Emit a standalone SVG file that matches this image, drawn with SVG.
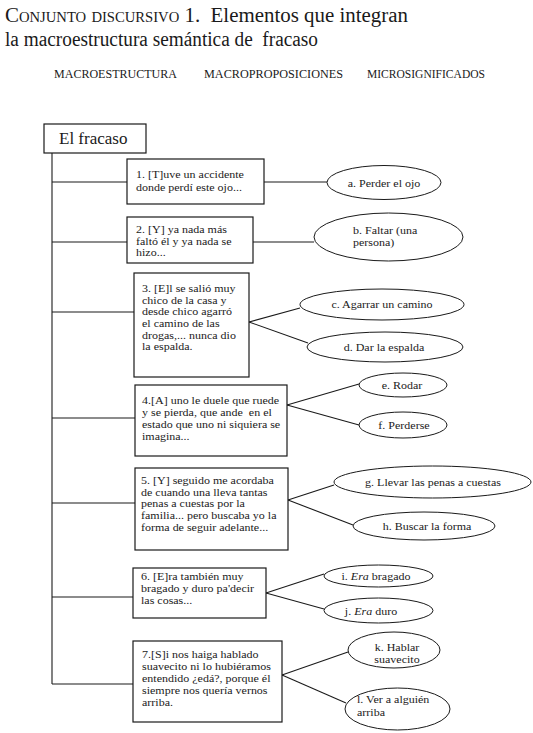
<svg xmlns="http://www.w3.org/2000/svg" width="533" height="733" viewBox="0 0 533 733">
<style>
text{font-family:"Liberation Serif","Times New Roman",serif;fill:#1a1a1a}
.t{font-size:20px;white-space:pre}
.h{font-size:11.5px}
.b{font-size:10.5px;white-space:pre}
.c{text-anchor:middle}
rect{fill:#fff;stroke:#1a1a1a;stroke-width:1.2}
ellipse{fill:#fff;stroke:#1a1a1a;stroke-width:1}
#connectors line{stroke:#1a1a1a;stroke-width:1.1;fill:none}
</style>
<rect x="0" y="0" width="533" height="733" style="stroke:none"/>
<g id="title">
<text class="t" x="5" y="22" textLength="403" lengthAdjust="spacingAndGlyphs"><tspan style="font-variant:small-caps">Conjunto discursivo</tspan> 1.  Elementos que integran</text>
<text class="t" x="5" y="46" textLength="313" lengthAdjust="spacingAndGlyphs">la macroestructura semántica de  fracaso</text>
</g>
<g id="headers">
<text class="h" x="54" y="78" textLength="123" lengthAdjust="spacingAndGlyphs">MACROESTRUCTURA</text>
<text class="h" x="204" y="78" textLength="139" lengthAdjust="spacingAndGlyphs">MACROPROPOSICIONES</text>
<text class="h" x="367" y="78" textLength="118" lengthAdjust="spacingAndGlyphs">MICROSIGNIFICADOS</text>
</g>
<g id="connectors">
<line x1="52" y1="153" x2="52" y2="684"/>
<line x1="52" y1="182" x2="127" y2="182"/>
<line x1="52" y1="242" x2="127" y2="242"/>
<line x1="52" y1="312" x2="134" y2="312"/>
<line x1="52" y1="418" x2="135" y2="418"/>
<line x1="52" y1="503" x2="135" y2="503"/>
<line x1="52" y1="597" x2="133" y2="597"/>
<line x1="52" y1="684" x2="133" y2="684"/>
<line x1="264" y1="182" x2="327" y2="182"/>
<line x1="253" y1="242" x2="314" y2="242"/>
<line x1="249" y1="322" x2="300" y2="308"/>
<line x1="249" y1="322" x2="308" y2="343"/>
<line x1="287" y1="405" x2="359" y2="384"/>
<line x1="287" y1="405" x2="359" y2="425"/>
<line x1="288" y1="500" x2="334" y2="485"/>
<line x1="288" y1="500" x2="353" y2="525"/>
<line x1="266" y1="593" x2="324" y2="574"/>
<line x1="266" y1="593" x2="324" y2="609"/>
<line x1="282" y1="675" x2="348" y2="652"/>
<line x1="282" y1="675" x2="346" y2="703"/>
</g>
<g id="root">
<rect x="44" y="124" width="102" height="29"/>
<text x="59" y="144" style="font-size:17px">El fracaso</text>
</g>
<g id="p1">
<rect x="127" y="159" width="137" height="45"/>
<text class="b" transform="translate(136,178) scale(1.143,1)">1. [T]uve un accidente<tspan x="0" dy="13">donde perdí este ojo...</tspan></text>
</g>
<g id="p2">
<rect x="127" y="217" width="126" height="46"/>
<text class="b" transform="translate(136,233) scale(1.143,1)">2. [Y] ya nada más<tspan x="0" dy="11.7">faltó él y ya nada se</tspan><tspan x="0" dy="11.7">hizo...</tspan></text>
</g>
<g id="p3">
<rect x="134" y="273" width="115" height="104"/>
<text class="b" transform="translate(142,292) scale(1.143,1)">3. [E]l se salió muy<tspan x="0" dy="11.7">chico de la casa y</tspan><tspan x="0" dy="11.7">desde chico agarró</tspan><tspan x="0" dy="11.7">el camino de las</tspan><tspan x="0" dy="11.7">drogas,... nunca dio</tspan><tspan x="0" dy="11.7">la espalda.</tspan></text>
</g>
<g id="p4">
<rect x="135" y="385" width="152" height="71"/>
<text class="b" transform="translate(142,404) scale(1.143,1)">4.[A] uno le duele que ruede<tspan x="0" dy="12">y se pierda, que ande  en el</tspan><tspan x="0" dy="12">estado que uno ni siquiera se</tspan><tspan x="0" dy="12">imagina...</tspan></text>
</g>
<g id="p5">
<rect x="135" y="468" width="153" height="82"/>
<text class="b" transform="translate(141,484) scale(1.143,1)">5. [Y] seguido me acordaba<tspan x="0" dy="11.7">de cuando una lleva tantas</tspan><tspan x="0" dy="11.7">penas a cuestas por la</tspan><tspan x="0" dy="11.7">familia... pero buscaba yo la</tspan><tspan x="0" dy="11.7">forma de seguir adelante...</tspan></text>
</g>
<g id="p6">
<rect x="133" y="568" width="133" height="50"/>
<text class="b" transform="translate(141,580) scale(1.143,1)">6. [E]ra también muy<tspan x="0" dy="12">bragado y duro pa'decir</tspan><tspan x="0" dy="12">las cosas...</tspan></text>
</g>
<g id="p7">
<rect x="133" y="641" width="149" height="81"/>
<text class="b" transform="translate(142,658) scale(1.143,1)">7.[S]i nos haiga hablado<tspan x="0" dy="12">suavecito ni lo hubiéramos</tspan><tspan x="0" dy="12">entendido ¿edá?, porque él</tspan><tspan x="0" dy="12">siempre nos quería vernos</tspan><tspan x="0" dy="12">arriba.</tspan></text>
</g>
<g id="ma">
<ellipse cx="384" cy="182.5" rx="57" ry="17"/>
<text class="b c" transform="translate(384,186.5) scale(1.143,1)">a. Perder el ojo</text>
</g>
<g id="mb">
<ellipse cx="388.5" cy="237" rx="74.5" ry="24"/>
<text class="b" transform="translate(353,234) scale(1.143,1)">b. Faltar (una<tspan x="0" dy="12">persona)</tspan></text>
</g>
<g id="mc">
<ellipse cx="382" cy="304.5" rx="82" ry="15.5"/>
<text class="b c" transform="translate(382,308) scale(1.143,1)">c. Agarrar un camino</text>
</g>
<g id="md">
<ellipse cx="385" cy="347" rx="78" ry="15"/>
<text class="b c" transform="translate(384,351) scale(1.143,1)">d. Dar la espalda</text>
</g>
<g id="me">
<ellipse cx="403" cy="385" rx="44" ry="12"/>
<text class="b c" transform="translate(402,389) scale(1.143,1)">e. Rodar</text>
</g>
<g id="mf">
<ellipse cx="403" cy="425" rx="44" ry="13"/>
<text class="b c" transform="translate(404,429) scale(1.143,1)">f. Perderse</text>
</g>
<g id="mg">
<ellipse cx="432.5" cy="482" rx="98.5" ry="16"/>
<text class="b c" transform="translate(433,486) scale(1.143,1)">g. Llevar las penas a cuestas</text>
</g>
<g id="mh">
<ellipse cx="424" cy="526" rx="71" ry="14"/>
<text class="b c" transform="translate(427,530) scale(1.143,1)">h. Buscar la forma</text>
</g>
<g id="mi">
<ellipse cx="378.5" cy="576" rx="54.5" ry="11"/>
<text class="b c" transform="translate(376,580) scale(1.143,1)">i. <tspan font-style="italic">Era</tspan> bragado</text>
</g>
<g id="mj">
<ellipse cx="378.5" cy="610.5" rx="54.5" ry="12.5"/>
<text class="b c" transform="translate(371,615) scale(1.143,1)">j. <tspan font-style="italic">Era</tspan> duro</text>
</g>
<g id="mk">
<ellipse cx="394" cy="650" rx="46" ry="18"/>
<text class="b c" transform="translate(397,651) scale(1.143,1)">k. Hablar<tspan x="0" dy="12">suavecito</tspan></text>
</g>
<g id="ml">
<ellipse cx="397.5" cy="709" rx="52.5" ry="21"/>
<text class="b" transform="translate(357,703) scale(1.143,1)">l. Ver a alguién<tspan x="0" dy="13">arriba</tspan></text>
</g>
</svg>
